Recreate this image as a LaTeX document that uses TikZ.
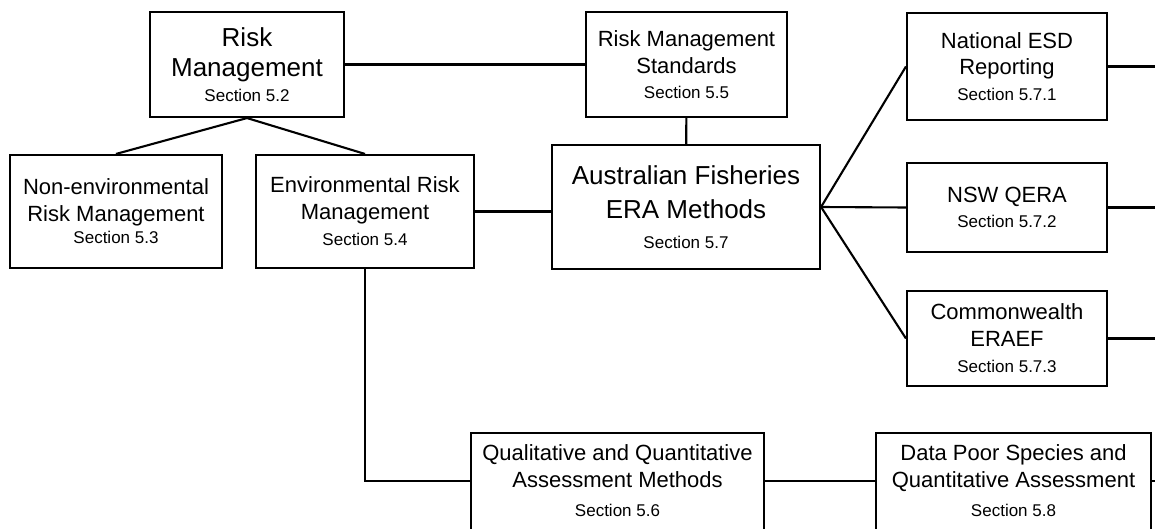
\documentclass[tikz,border=0pt]{standalone}
\usepackage{fontspec}
\setmainfont{Liberation Sans}
% type sizes: headline, normal line, section number
\newcommand\bigtxt{\fontsize{26}{30}\selectfont}
\newcommand\midtxt{\fontsize{22}{26}\selectfont}
\newcommand\smtxt{\fontsize{17}{20}\selectfont}
\begin{document}
\begin{tikzpicture}[x=1pt,y=-1pt,
  box/.style={draw,line width=2.1pt,rectangle,align=center,inner sep=0pt},
  txt/.style={align=center,inner sep=0pt},
  link/.style={line width=2.1pt}]
\useasboundingbox (0,0) rectangle (1155,529);
\clip (0,0) rectangle (1155,529);

% boxes of the upper rows
\node[box,minimum width=194,minimum height=105,font=\fontsize{26}{30}\selectfont] (rm) at (247,64.5)
  {\bigtxt Risk\\\bigtxt Management\\[-5pt]\smtxt Section 5.2};
\node[box,minimum width=212,minimum height=113,font=\fontsize{22}{27}\selectfont] (nonenv) at (116,211.5)
  {\midtxt Non-environmental\\\midtxt Risk Management\\[-5pt]\smtxt Section 5.3};
\node[box,minimum width=218,minimum height=113,font=\fontsize{22}{27}\selectfont] (env) at (365,211.5)
  {\midtxt Environmental Risk\\\midtxt Management\\[-1pt]\smtxt Section 5.4};
\node[box,minimum width=201,minimum height=105,font=\fontsize{22}{27}\selectfont] (rms) at (686.5,64.5)
  {\midtxt Risk Management\\\midtxt Standards\\[-2pt]\smtxt Section 5.5};
\node[box,minimum width=268,minimum height=124,font=\fontsize{26}{34}\selectfont] (af) at (686,207)
  {\bigtxt Australian Fisheries\\\bigtxt ERA Methods\\[-4pt]\smtxt Section 5.7};
\node[box,minimum width=200,minimum height=107,font=\fontsize{22}{26}\selectfont] (nesd) at (1007,66.5)
  {\midtxt National ESD\\\midtxt Reporting\\\smtxt Section 5.7.1};
\node[box,minimum width=200,minimum height=89,font=\fontsize{22}{25}\selectfont] (nsw) at (1007,207.5)
  {\midtxt NSW QERA\\\smtxt Section 5.7.2};
\node[box,minimum width=200,minimum height=95,font=\fontsize{22}{27}\selectfont] (cw) at (1007,338.5)
  {\midtxt Commonwealth\\\midtxt ERAEF\\[-1pt]\smtxt Section 5.7.3};

% lower row, running past the bottom edge
\node[box,minimum width=293,minimum height=170,anchor=north] (qual) at (617.5,432) {};
\node[txt,anchor=north,font=\fontsize{22}{27}\selectfont] (qtext) at (617.5,444)
  {\midtxt Qualitative and Quantitative\\\midtxt Assessment Methods\\[2pt]\smtxt Section 5.6};
\node[box,minimum width=275,minimum height=170,anchor=north] (dp) at (1013.5,432) {};
\node[txt,anchor=north,font=\fontsize{22}{27}\selectfont] (dtext) at (1013.5,444)
  {\midtxt Data Poor Species and\\\midtxt Quantitative Assessment\\[2pt]\smtxt Section 5.8};

% loose ends leaving the right edge
\coordinate (outa) at (1165,66.5);
\coordinate (outb) at (1165,207.5);
\coordinate (outc) at (1165,338.5);
\coordinate (outd) at (1165,481);
\coordinate (fan) at (af.east);
\coordinate (lowrow) at (617.5,481);

% connectors
\draw[link] (rm) -- (rms);
\draw[link] (rm.south) -- (nonenv.north);
\draw[link] (rm.south) -- (env.north);
\draw[link] (rms) -- (af);
\draw[link] (env.east) -- (env.east -| af.west);
\draw[link] (fan) -- (nesd.west);
\draw[link] (fan) -- (nsw.west);
\draw[link] (fan) -- (cw.west);
\draw[link] (nesd.east) -- (outa);
\draw[link] (nsw.east) -- (outb);
\draw[link] (cw.east) -- (outc);
\draw[link] (env.south) |- (lowrow -| qual.west);
\draw[link] (lowrow -| qual.east) -- (lowrow -| dp.west);
\draw[link] (lowrow -| dp.east) -- (outd);
\end{tikzpicture}
\end{document}
